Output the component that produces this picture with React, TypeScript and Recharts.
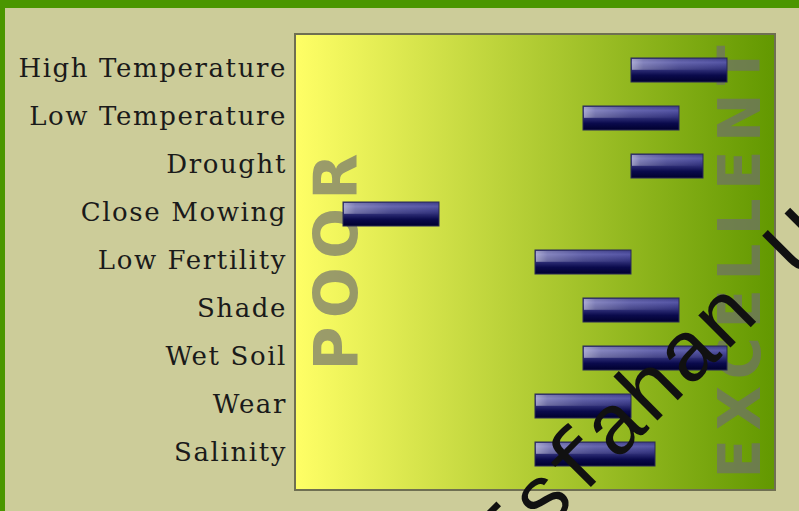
import React from "react";
import { BarChart, Bar, XAxis, YAxis, ReferenceArea } from "recharts";

const STRESSES = ["High Temperature", "Low Temperature", "Drought", "Close Mowing", "Low Fertility", "Shade", "Wet Soil", "Wear", "Salinity"];
const LOW = [7, 6, 7, 1, 5, 6, 6, 5, 5];
const HIGH = [9, 8, 8.5, 3, 7, 8, 9, 7, 7.5];
const SCALE = [0, 10];

const data = STRESSES.map((name, i) => ({ name, lo: LOW[i], hi: HIGH[i] }));

const PAD = 12;
const labelFont = "'DejaVu Serif', serif";

// glossy navy bar
const GlossBar = (props: any) => {
  const { x, y, width, height } = props;
  if (!width || !height) return null;
  return (
    <g>
      <rect x={x} y={y} width={width} height={height} fill="url(#barGrad)" stroke="#2b2b55" strokeWidth={1} />
      <rect x={x + 1} y={y + 1} width={width - 2} height={height * 0.45} fill="url(#barShine)" />
    </g>
  );
};

// plot background with POOR / EXCELLENT marks
const PlotBack = (props: any) => {
  const { x, width } = props;
  const y = props.y - PAD;
  const height = props.height + PAD * 2;
  const cy = y + height / 2;
  return (
    <g>
      <rect x={x} y={y} width={width} height={height} fill="url(#plotGrad)" stroke="#6f6f52" strokeWidth={2} />
      <text
        transform={`translate(${x + 62},${cy}) rotate(-90)`}
        textAnchor="middle"
        fontFamily="'DejaVu Sans', sans-serif"
        fontWeight={700}
        fontSize={60}
        textLength={217}
        lengthAdjust="spacing"
        fill="#6e6e6e"
        fillOpacity={0.68}
      >
        POOR
      </text>
      <text
        transform={`translate(${x + width - 15},${cy}) rotate(-90)`}
        textAnchor="middle"
        fontFamily="'DejaVu Sans', sans-serif"
        fontWeight={700}
        fontSize={58}
        textLength={433}
        lengthAdjust="spacing"
        fill="#6e6e6e"
        fillOpacity={0.68}
      >
        EXCELLENT
      </text>
    </g>
  );
};

export default function App() {
  return (
    <div
      style={{
        position: "fixed",
        left: 0,
        top: 0,
        width: 799,
        height: 511,
        background: "#cccc99",
        overflow: "hidden",
      }}
    >
      <div style={{ position: "absolute", left: 0, top: 0, width: 799, height: 8, background: "#4b9600" }} />
      <div style={{ position: "absolute", left: 0, top: 0, width: 5, height: 511, background: "#4b9600" }} />
      <div style={{ position: "absolute", left: 0, top: 0 }}>
        <BarChart width={799} height={511} data={data} layout="vertical" margin={{ top: 34, right: 24, bottom: 21, left: 0 }}>
          <defs>
            <linearGradient id="plotGrad" x1="0" y1="0" x2="1" y2="0">
              <stop offset="0%" stopColor="#ffff66" />
              <stop offset="100%" stopColor="#629800" />
            </linearGradient>
            <linearGradient id="barGrad" x1="0" y1="0" x2="0" y2="1">
              <stop offset="0%" stopColor="#3a3a86" />
              <stop offset="18%" stopColor="#5656a6" />
              <stop offset="45%" stopColor="#34347e" />
              <stop offset="72%" stopColor="#0a0a4c" />
              <stop offset="100%" stopColor="#00002e" />
            </linearGradient>
            <linearGradient id="barShine" x1="0" y1="0" x2="1" y2="0">
              <stop offset="0%" stopColor="#ffffff" stopOpacity={0.5} />
              <stop offset="12%" stopColor="#ffffff" stopOpacity={0.28} />
              <stop offset="50%" stopColor="#ffffff" stopOpacity={0.1} />
              <stop offset="100%" stopColor="#ffffff" stopOpacity={0} />
            </linearGradient>
          </defs>
          <XAxis type="number" domain={SCALE} hide allowDataOverflow />
          <YAxis
            type="category"
            dataKey="name"
            width={295}
            axisLine={false}
            tickLine={false}
            tickSize={0}
            tickMargin={8}
            padding={{ top: PAD, bottom: PAD }}
            tick={{ fill: "#1a1a1a", fontSize: 26, fontFamily: labelFont, letterSpacing: 1.6, dy: -2 }}
            interval={0}
          />
          <ReferenceArea x1={SCALE[0]} x2={SCALE[1]} shape={PlotBack} ifOverflow="visible" zIndex={-10} />
          <Bar dataKey={(d: any) => [d.lo, d.hi]} barSize={24} shape={GlossBar} isAnimationActive={false} />
        </BarChart>
      </div>
      <svg width={799} height={511} style={{ position: "absolute", left: 0, top: 0, pointerEvents: "none" }}>
        <text
          transform="translate(506,572) rotate(-45)"
          fontFamily="'Liberation Mono', monospace"
          fontSize={86}
          fill="#111"
        >
          Isfahan University
        </text>
      </svg>
    </div>
  );
}
